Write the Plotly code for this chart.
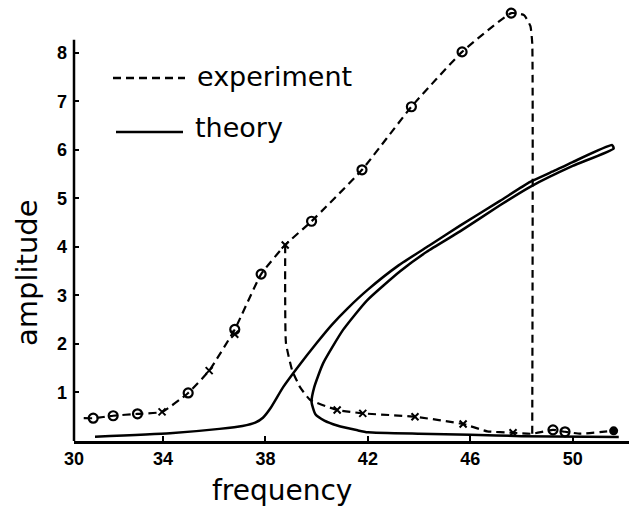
import plotly.graph_objects as go

# ---- data ----
# experiment, upward frequency sweep (dashed path)
exp_up_f = [30.9, 31.27, 32.05, 33.0, 33.96, 34.98, 35.8, 36.8, 37.83, 38.77, 39.8, 41.77, 43.7, 45.68, 47.6, 48.1, 48.35, 48.42, 48.42]
exp_up_a = [0.47, 0.47, 0.52, 0.56, 0.60, 0.99, 1.45, 2.3, 3.44, 4.04, 4.53, 5.59, 6.89, 8.02, 8.82, 8.78, 8.55, 8.2, 0.15]
# experiment, downward frequency sweep (dashed path)
exp_dn_f = [38.77, 38.8, 39.04, 39.35, 39.74, 40.8, 41.8, 43.84, 45.72, 46.66, 47.67, 48.42, 49.23, 49.7, 50.3, 51.6]
exp_dn_a = [4.04, 2.02, 1.46, 1.11, 0.85, 0.64, 0.57, 0.50, 0.35, 0.20, 0.17, 0.15, 0.23, 0.19, 0.15, 0.21]
# measured points
circ_f = [31.27, 32.05, 33.0, 34.98, 36.8, 37.83, 39.8, 41.77, 43.7, 45.68, 47.6, 49.23, 49.7]
circ_a = [0.47, 0.52, 0.56, 0.99, 2.3, 3.44, 4.53, 5.59, 6.89, 8.02, 8.82, 0.23, 0.19]
cross_f = [33.96, 35.8, 36.8, 38.77, 40.8, 41.8, 43.84, 45.72, 47.67]
cross_a = [0.60, 1.45, 2.2, 4.04, 0.64, 0.57, 0.50, 0.35, 0.17]
filled_f = [51.6]
filled_a = [0.21]
# theory: upper branch -> middle (unstable) branch -> lower branch
th_f = [31.34, 34.27, 36.2, 37.1, 37.6, 37.9, 38.2, 38.69, 39.23, 40.0, 40.6, 41.2, 42.0, 43.2, 44.4, 45.6, 47.16, 48.34, 49.2, 50.0, 51.54,
        51.6, 50.0, 48.34, 47.16, 45.6, 44.3, 43.26, 41.97, 41.03, 40.25, 39.9, 39.8,
        39.95, 40.3, 40.8, 41.6, 42.0, 44.0, 46.0, 48.0, 51.8]
th_a = [0.09, 0.16, 0.25, 0.31, 0.38, 0.48, 0.68, 1.11, 1.50, 2.02, 2.40, 2.73, 3.12, 3.62, 4.03, 4.44, 4.95, 5.34, 5.55, 5.75, 6.10,
        6.03, 5.67, 5.24, 4.86, 4.32, 3.90, 3.50, 2.90, 2.29, 1.60, 1.10, 0.80,
        0.55, 0.42, 0.32, 0.22, 0.18, 0.15, 0.13, 0.10, 0.08]

x_tickvals = [30.52, 34, 38, 42, 46, 50]
x_ticktext = ["30", "34", "38", "42", "46", "50"]
y_tickvals = [1, 2, 3, 4, 5, 6, 7, 8]

FONT = "DejaVu Sans"
W, H = 629, 512
ML, MR, MT, MB = 74, 0, 0, 71
PW, PH = W - ML - MR, H - MT - MB

def px(x):
    return (x - ML) / PW

def py(y):
    return (H - MB - y) / PH

fig = go.Figure()
fig.add_trace(go.Scatter(x=th_f, y=th_a, mode="lines",
                         line=dict(color="black", width=2.5, shape="spline", smoothing=0.5),
                         hoverinfo="skip", showlegend=False))
fig.add_trace(go.Scatter(x=exp_up_f, y=exp_up_a, mode="lines",
                         line=dict(color="black", width=2.2, dash="8px,5px", shape="spline", smoothing=0.4),
                         showlegend=False))
fig.add_trace(go.Scatter(x=exp_dn_f, y=exp_dn_a, mode="lines",
                         line=dict(color="black", width=2.2, dash="8px,5px", shape="spline", smoothing=0.4),
                         showlegend=False))
fig.add_trace(go.Scatter(x=circ_f, y=circ_a, mode="markers",
                         marker=dict(symbol="circle-open", size=9, color="black", line=dict(width=2.2)),
                         showlegend=False))
fig.add_trace(go.Scatter(x=cross_f, y=cross_a, mode="markers",
                         marker=dict(symbol="x-thin", size=7, color="black", line=dict(width=2, color="black")),
                         showlegend=False))
fig.add_trace(go.Scatter(x=filled_f, y=filled_a, mode="markers",
                         marker=dict(symbol="circle", size=9, color="black"),
                         showlegend=False))

# left spine (stops below the top of the plot)
fig.add_shape(type="line", xref="paper", yref="y", x0=0, x1=0, y0=0, y1=8.27,
              line=dict(color="black", width=2.5))

# legend drawn by hand
fig.add_shape(type="line", xref="paper", yref="paper", x0=px(113), x1=px(185), y0=py(78), y1=py(78),
              line=dict(color="black", width=2.5, dash="8px,5px"))
fig.add_shape(type="line", xref="paper", yref="paper", x0=px(116), x1=px(183), y0=py(132), y1=py(132),
              line=dict(color="black", width=2.5))
fig.add_annotation(text="experiment", xref="paper", yref="paper", x=px(195), y=py(76),
                   xanchor="left", yanchor="middle", showarrow=False,
                   font=dict(family=FONT, size=27, color="black"))
fig.add_annotation(text="theory", xref="paper", yref="paper", x=px(193), y=py(128),
                   xanchor="left", yanchor="middle", showarrow=False,
                   font=dict(family=FONT, size=27, color="black"))
# axis titles
fig.add_annotation(text="frequency", xref="paper", yref="paper", x=px(282), y=py(490),
                   xanchor="center", yanchor="middle", showarrow=False,
                   font=dict(family=FONT, size=28, color="black"))
fig.add_annotation(text="amplitude", xref="paper", yref="paper", x=px(27), y=py(273),
                   xanchor="center", yanchor="middle", showarrow=False, textangle=-90,
                   font=dict(family=FONT, size=29, color="black"))

fig.update_layout(
    width=W, height=H,
    margin=dict(l=ML, r=MR, t=MT, b=MB),
    paper_bgcolor="white", plot_bgcolor="white",
    showlegend=False,
    xaxis=dict(range=[30.52, 52.2], tickvals=x_tickvals, ticktext=x_ticktext,
               ticks="inside", ticklen=5, tickwidth=2, tickcolor="black",
               showline=True, linecolor="black", linewidth=2.5,
               showgrid=False, zeroline=False,
               tickfont=dict(family="Liberation Sans", size=18, color="black", weight="bold")),
    yaxis=dict(range=[0, 9.09], tickvals=y_tickvals,
               ticks="inside", ticklen=5, tickwidth=2, tickcolor="black",
               showline=False, showgrid=False, zeroline=False,
               ticklabelstandoff=6,
               tickfont=dict(family="Liberation Sans", size=18, color="black", weight="bold")),
)

fig.write_html("out.html")
